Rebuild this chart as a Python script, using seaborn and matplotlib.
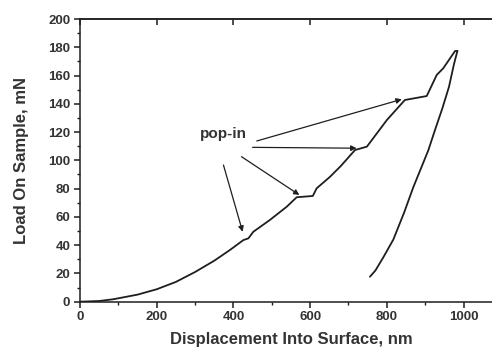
import numpy as np
import pandas as pd
import matplotlib
matplotlib.use("Agg")
import matplotlib.pyplot as plt
from matplotlib.ticker import MultipleLocator
import seaborn as sns

# --- data (nm, mN) ---
load_disp = [0, 50, 86, 150, 200, 250, 300, 350, 391, 426, 439, 452, 495, 539,
             565, 607, 617, 652, 680, 717, 748, 800, 847, 904, 930, 947, 978, 984]
load_force = [0, 0.5, 1.7, 5.0, 8.8, 14.0, 21.0, 29.0, 36.6, 43.6, 44.8, 49.5, 57.8, 67.2,
              73.9, 74.8, 80.2, 88.4, 96.0, 107.3, 109.7, 128.5, 142.7, 145.5, 160.4, 165.1, 177.4, 177.4]

unload_disp = [984, 975, 962, 945, 925, 908, 890, 869, 845, 817, 790, 770, 756]
unload_force = [177.4, 168, 152, 137, 121, 107, 95, 81, 63, 44, 31, 22, 17.7]

# pop-in annotations: (text anchor) -> (arrow tip)
popin_label = "pop-in"
popin_label_xy = (373, 118.6)
arrow_starts = [(461, 113.7), (450, 109.2), (421, 102.6), (374, 96.7)]
arrow_tips = [(839, 143.2), (721, 108.6), (572, 75.5), (424, 49.5)]

loading = pd.DataFrame({"disp": load_disp, "load": load_force})
unloading = pd.DataFrame({"disp": unload_disp, "load": unload_force})

sns.set_style("ticks")
plt.rcParams["font.family"] = ["Liberation Sans", "DejaVu Sans"]
plt.rcParams["font.weight"] = "bold"

ink = "#1e1e1e"
fig = plt.figure(figsize=(4.92, 3.47), dpi=100)
ax = fig.add_axes([80 / 492, 45.3 / 347, 421.9 / 492, 282.7 / 347])

sns.lineplot(data=loading, x="disp", y="load", sort=False, estimator=None,
             color=ink, lw=1.3, ax=ax)
sns.lineplot(data=unloading, x="disp", y="load", sort=False, estimator=None,
             color=ink, lw=1.3, ax=ax)

for (sx, sy), (tx, ty) in zip(arrow_starts, arrow_tips):
    ax.annotate("", xy=(tx, ty), xytext=(sx, sy),
                arrowprops=dict(arrowstyle="-|>", color=ink, lw=0.9,
                                mutation_scale=8, shrinkA=0, shrinkB=0))
ax.text(*popin_label_xy, popin_label, ha="center", va="center",
        fontsize=11, fontweight="bold", color="#333333")

ax.set_xlim(0, 1100)
ax.set_ylim(0, 200)
ax.xaxis.set_major_locator(MultipleLocator(200))
ax.xaxis.set_minor_locator(MultipleLocator(100))
ax.yaxis.set_major_locator(MultipleLocator(20))
ax.yaxis.set_minor_locator(MultipleLocator(10))
ax.tick_params(which="major", direction="out", length=4, width=1.1,
               labelsize=9.5, colors=ink, labelcolor="#333333", pad=3)
ax.tick_params(which="minor", direction="out", length=2.5, width=1.0, colors=ink)

top = ax.secondary_xaxis("top")
top.xaxis.set_major_locator(MultipleLocator(200))
top.tick_params(direction="in", length=4, width=1.1, labeltop=False, colors=ink)
top.spines["top"].set_linewidth(1.1)

for s in ax.spines.values():
    s.set_linewidth(1.1)
    s.set_color(ink)

ax.set_xlabel("Displacement Into Surface, nm", fontsize=12, fontweight="bold",
              color="#333333", labelpad=6)
ax.set_ylabel("Load On Sample, mN", fontsize=12, fontweight="bold",
              color="#333333", labelpad=14)

fig.savefig("out.png", dpi=100)
